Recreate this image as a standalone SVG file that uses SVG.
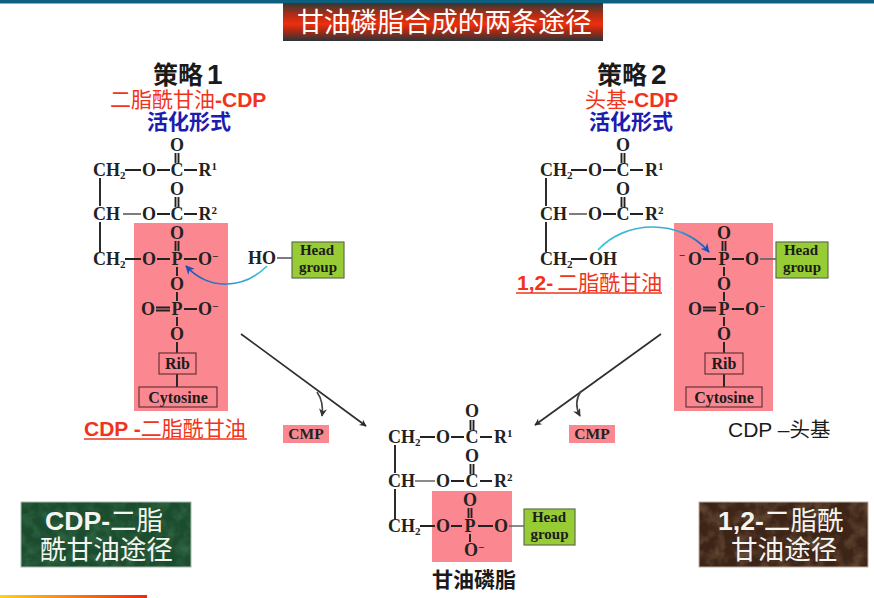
<svg xmlns="http://www.w3.org/2000/svg" width="874" height="598" viewBox="0 0 874 598">
<style>
.bond{stroke:#222;stroke-width:1.9;fill:none}
.soft{stroke:#666;stroke-width:1.7;fill:none}
.a{font-family:"Liberation Serif",serif;font-weight:bold;font-size:18px;fill:#222;text-anchor:middle}
.l{text-anchor:start}
.sup{font-size:11px}
.sub{font-size:11px}
.box{font-family:"Liberation Serif",serif;font-weight:bold;font-size:16px;fill:#1c1c1c;text-anchor:middle}
.hgt{font-family:"Liberation Serif",serif;font-weight:bold;font-size:15px;fill:#1c1c1c;text-anchor:middle}
.pink{fill:#fb8790}
.hg{fill:#98cc34;stroke:#5f6f50;stroke-width:1.2}
.in{fill:none;stroke:#6a3338;stroke-width:1.2}
.cjk{font-family:"Liberation Sans","Noto Sans CJK SC",sans-serif;font-weight:bold}
.n{font-weight:normal}
.red{fill:#f2331c;font-size:21px}
.blue{fill:#1c1cb0;font-size:21px}
.blk{fill:#1a1a1a;font-size:25px}
.wht{fill:#f4f4f0;font-size:26.600px}
.cmp{font-family:"Liberation Serif",serif;font-weight:bold;font-size:15.500px;fill:#222;text-anchor:middle}
.ul{stroke:#f2331c;stroke-width:1.5}
.main{stroke:#2e2e2e;stroke-width:1.7;fill:none;marker-end:url(#ah)}
.small{stroke:#444;stroke-width:1.6;fill:none;marker-end:url(#ah2)}
</style>
<defs>
<linearGradient id="tg" x1="0" y1="0" x2="0" y2="1">
<stop offset="0" stop-color="#2f3a38"/><stop offset=".3" stop-color="#b02c14"/><stop offset=".55" stop-color="#ee2f0c"/><stop offset=".75" stop-color="#a52a14"/><stop offset="1" stop-color="#27363a"/>
</linearGradient>
<linearGradient id="og" x1="0" y1="0" x2="1" y2="0">
<stop offset="0" stop-color="#ffd21a"/><stop offset="1" stop-color="#f0280a"/>
</linearGradient>
<linearGradient id="c1" gradientUnits="userSpaceOnUse" x1="267" y1="266" x2="186" y2="266">
<stop offset="0" stop-color="#3cc4d8"/><stop offset="1" stop-color="#1f50b8"/>
</linearGradient>
<linearGradient id="c2" gradientUnits="userSpaceOnUse" x1="598" y1="250" x2="709" y2="250">
<stop offset="0" stop-color="#3cc4d8"/><stop offset=".7" stop-color="#38a8d0"/><stop offset="1" stop-color="#1f50b8"/>
</linearGradient>
<marker id="ah" viewBox="0 0 10 10" refX="9" refY="5" markerWidth="9" markerHeight="7" markerUnits="userSpaceOnUse" orient="auto"><path d="M0 0L10 5L0 10L3 5Z" fill="#2e2e2e"/></marker>
<marker id="ah2" viewBox="0 0 10 10" refX="9" refY="5" markerWidth="8" markerHeight="8" markerUnits="userSpaceOnUse" orient="auto"><path d="M0 0L10 5L0 10L3 5Z" fill="#333"/></marker>
<marker id="ab1" viewBox="0 0 10 10" refX="9" refY="5" markerWidth="9" markerHeight="9" markerUnits="userSpaceOnUse" orient="auto"><path d="M0 0L10 5L0 10L3 5Z" fill="#1f50b8"/></marker>
<filter id="gr" x="0" y="0" width="100%" height="100%" color-interpolation-filters="sRGB">
<feTurbulence type="fractalNoise" baseFrequency="0.09" numOctaves="3" seed="4"/>
<feColorMatrix values="0 0 0 0 0.24  0 0 0 0 0.46  0 0 0 0 0.32  0 0 0 1.300 -0.500"/>
<feComposite in2="SourceGraphic" operator="in" result="n"/>
<feMerge><feMergeNode in="SourceGraphic"/><feMergeNode in="n"/></feMerge>
</filter>
<filter id="br" x="0" y="0" width="100%" height="100%" color-interpolation-filters="sRGB">
<feTurbulence type="fractalNoise" baseFrequency="0.08" numOctaves="3" seed="9"/>
<feColorMatrix values="0 0 0 0 0.50  0 0 0 0 0.38  0 0 0 0 0.28  0 0 0 1.300 -0.500"/>
<feComposite in2="SourceGraphic" operator="in" result="n"/>
<feMerge><feMergeNode in="SourceGraphic"/><feMergeNode in="n"/></feMerge>
</filter>
</defs>
<rect width="874" height="598" fill="#fff"/>
<rect width="874" height="3.500" fill="#0d5f80"/>
<rect x="0" y="595" width="147" height="3" fill="url(#og)"/>

<g id="title">
<rect x="283" y="3" width="320" height="38" fill="url(#tg)"/>
<text class="cjk n" x="297" y="32" font-size="26.800" fill="#fff">甘油磷脂合成的两条途径</text>
</g>

<g id="strategy1">
<text class="cjk blk" x="153" y="84">策略<tspan font-size="28" dx="4">1</tspan></text>
<text class="cjk red" x="110" y="107"><tspan class="n">二脂酰甘油</tspan>-CDP</text>
<text class="cjk blue" x="147" y="129">活化形式</text>
</g>
<g id="strategy2">
<text class="cjk blk" x="597" y="84">策略<tspan font-size="28" dx="4">2</tspan></text>
<text class="cjk red" x="585" y="107"><tspan class="n">头基</tspan>-CDP</text>
<text class="cjk blue" x="589" y="129">活化形式</text>
</g>

<g id="cdp-dag">
<rect class="pink" x="134" y="223" width="94" height="188"/>
<path class="bond" d="M125 170H141M157 170H170M184 170H197M175.500 153V163M178.500 153V163M100 178V206M100 222V252M157 214H170M184 214H197M175.500 197V207M178.500 197V207M125 259H141M157 259H170M184 259H197M175.500 241V251M178.500 241V251M177 267V276M177 292V301M156 307.500H170M156 310.500H170M184 309H197M177 317V326M177 342V353M177 374V387"/>
<path class="soft" d="M123 214H141"/>
<text class="a l" x="93" y="176">CH<tspan class="sub" dy="3">2</tspan></text>
<text class="a" x="149" y="176">O</text><text class="a" x="177" y="176">C</text>
<text class="a l" x="198.500" y="176">R<tspan class="sup" dy="-6">1</tspan></text>
<text class="a" x="177" y="151">O</text>
<text class="a l" x="93" y="220">CH</text>
<text class="a" x="149" y="220">O</text><text class="a" x="177" y="220">C</text>
<text class="a l" x="198.500" y="220">R<tspan class="sup" dy="-6">2</tspan></text>
<text class="a" x="177" y="195">O</text>
<text class="a l" x="93" y="265">CH<tspan class="sub" dy="3">2</tspan></text>
<text class="a" x="149" y="265">O</text><text class="a" x="177" y="265">P</text>
<text class="a l" x="198" y="265">O<tspan class="sup" dy="-5">−</tspan></text>
<text class="a" x="177" y="239">O</text>
<text class="a" x="177" y="290">O</text>
<text class="a" x="148" y="315">O</text><text class="a" x="177" y="315">P</text>
<text class="a l" x="198" y="315">O<tspan class="sup" dy="-5">−</tspan></text>
<text class="a" x="177" y="340">O</text>
<rect class="in" x="159" y="353" width="37" height="21"/>
<text class="box" x="177.500" y="369">Rib</text>
<rect class="in" x="139" y="387" width="78" height="20"/>
<text class="box" x="178" y="402.500">Cytosine</text>
<text class="cjk red" x="84" y="436">CDP -<tspan class="n">二脂酰甘油</tspan></text>
<line class="ul" x1="84" y1="439" x2="247" y2="439"/>
</g>

<g id="head-left">
<text class="a" x="262" y="264">HO</text>
<path class="soft" d="M277 258H292"/>
<rect class="hg" x="292" y="242" width="52" height="36"/>
<text class="hgt" x="317" y="255">Head</text>
<text class="hgt" x="318" y="272">group</text>
</g>

<g id="cmp-left">
<rect class="pink" x="283" y="425" width="46" height="18"/>
<text class="cmp" x="306" y="439">CMP</text>
</g>

<g id="dag">
<path class="bond" d="M571 170H587M603 170H616M630 170H643M621.500 153V163M624.500 153V163M546 178V206M546 222V252M603 214H616M630 214H643M621.500 197V207M624.500 197V207M571 259H587"/>
<path class="soft" d="M569 214H587"/>
<text class="a l" x="540" y="176">CH<tspan class="sub" dy="3">2</tspan></text>
<text class="a" x="595" y="176">O</text><text class="a" x="623" y="176">C</text>
<text class="a l" x="645" y="176">R<tspan class="sup" dy="-6">1</tspan></text>
<text class="a" x="623" y="151">O</text>
<text class="a l" x="540" y="220">CH</text>
<text class="a" x="595" y="220">O</text><text class="a" x="623" y="220">C</text>
<text class="a l" x="645" y="220">R<tspan class="sup" dy="-6">2</tspan></text>
<text class="a" x="623" y="195">O</text>
<text class="a l" x="540" y="265">CH<tspan class="sub" dy="3">2</tspan></text>
<text class="a l" x="589" y="265">OH</text>
<text class="cjk red" x="517" y="290">1,2-<tspan class="n" dx="4">二脂酰甘油</tspan></text>
<line class="ul" x1="516" y1="293" x2="662" y2="293"/>
</g>

<g id="cdp-head">
<rect class="pink" x="674" y="223" width="99" height="188"/>
<path class="bond" d="M703 259H716M732 259H744M722.500 241V251M725.500 241V251M724 267V276M724 292V301M703 307.500H716M703 310.500H716M732 309H744M724 317V326M724 342V353M724 374V387"/>
<path class="soft" d="M760 259H776"/>
<text class="a" x="682" y="259" style="font-size:11px">−</text>
<text class="a" x="695" y="265">O</text><text class="a" x="724" y="265">P</text><text class="a" x="752" y="265">O</text>
<text class="a" x="724" y="239">O</text>
<text class="a" x="724" y="290">O</text>
<text class="a" x="695" y="315">O</text><text class="a" x="724" y="315">P</text>
<text class="a l" x="745" y="315">O<tspan class="sup" dy="-5">−</tspan></text>
<text class="a" x="724" y="340">O</text>
<rect class="in" x="705" y="353" width="38" height="21"/>
<text class="box" x="724" y="369">Rib</text>
<rect class="in" x="686" y="387" width="76" height="20"/>
<text class="box" x="724" y="402.500">Cytosine</text>
<rect class="hg" x="776" y="242" width="52" height="36"/>
<text class="hgt" x="801" y="255">Head</text>
<text class="hgt" x="802" y="272">group</text>
<text class="cjk n" x="728" y="437" font-size="21" fill="#1a1a1a">CDP –<tspan font-size="20.500">头基</tspan></text>
</g>

<g id="cmp-right">
<rect class="pink" x="569" y="425" width="46" height="18"/>
<text class="cmp" x="592" y="439">CMP</text>
</g>

<g id="phospholipid">
<rect class="pink" x="432" y="491" width="80" height="71"/>
<path class="bond" d="M420 437H435M451 437H464M480 437H492M470.500 420V430M473.500 420V430M395 445V473M395 489V519M451 481H464M480 481H492M470.500 464V474M473.500 464V474M420 526H435M451 526H462M478 526H493M468.500 508V518M471.500 508V518M470 534V542"/>
<path class="soft" d="M415 481H435M509 526H524"/>
<text class="a l" x="388" y="443">CH<tspan class="sub" dy="3">2</tspan></text>
<text class="a" x="443" y="443">O</text><text class="a" x="472" y="443">C</text>
<text class="a l" x="494" y="443">R<tspan class="sup" dy="-6">1</tspan></text>
<text class="a" x="472" y="417">O</text>
<text class="a l" x="388" y="487">CH</text>
<text class="a" x="443" y="487">O</text><text class="a" x="472" y="487">C</text>
<text class="a l" x="494" y="487">R<tspan class="sup" dy="-6">2</tspan></text>
<text class="a" x="472" y="462">O</text>
<text class="a l" x="388" y="532">CH<tspan class="sub" dy="3">2</tspan></text>
<text class="a" x="443" y="532">O</text><text class="a" x="470" y="532">P</text><text class="a" x="501" y="532">O</text>
<text class="a" x="470" y="506">O</text>
<text class="a l" x="464" y="556">O<tspan class="sup" dy="-5">−</tspan></text>
<rect class="hg" x="524" y="509" width="51" height="36"/>
<text class="hgt" x="549" y="522">Head</text>
<text class="hgt" x="549.500" y="539">group</text>
<text class="cjk" x="432" y="587" font-size="21" fill="#1a1a1a">甘油磷脂</text>
</g>

<g id="pathway-cdp-dag">
<rect x="21" y="502" width="170" height="65" fill="#1b4c2e" filter="url(#gr)"/>
<rect x="21" y="502" width="170" height="65" fill="none" stroke="#a8b8ac" stroke-width="1"/>
<text class="cjk wht" x="45" y="530">CDP-<tspan class="n">二脂</tspan></text>
<text class="cjk wht n" x="40" y="559">酰甘油途径</text>
</g>

<g id="pathway-dag">
<rect x="699" y="502" width="169" height="65" fill="#3c2417" filter="url(#br)"/>
<rect x="699" y="502" width="169" height="65" fill="none" stroke="#bcaea4" stroke-width="1"/>
<text class="cjk wht" x="718" y="530">1,2-<tspan class="n">二脂酰</tspan></text>
<text class="cjk wht n" x="731" y="559">甘油途径</text>
</g>

<g id="connectors">
<path class="main" d="M241 334L366 426"/>
<path class="small" d="M317 392Q324 402 322 416"/>
<path class="main" d="M661 334L535 425"/>
<path class="small" d="M581 391Q573 403 580 416"/>
<path d="M267 266C245 288 210 292 186 266" fill="none" stroke="url(#c1)" stroke-width="1.7" marker-end="url(#ab1)"/>
<path d="M598 250C625 220 680 218 709 252" fill="none" stroke="url(#c2)" stroke-width="1.7" marker-end="url(#ab1)"/>
</g>
</svg>
